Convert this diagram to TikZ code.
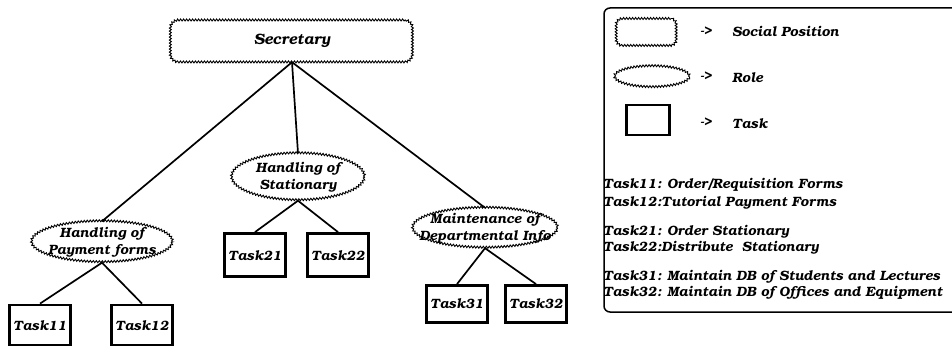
\documentclass[tikz,border=0pt]{standalone}
\usepackage[T1]{fontenc}
\usepackage{bookman}
\usetikzlibrary{shapes.geometric,decorations.pathmorphing}

\begin{document}
\begin{tikzpicture}[x=1pt,y=-1pt,font=\fontsize{13.5}{17}\selectfont\bfseries\itshape]
\tikzset{onde/.style={draw, line width=0.9pt, decorate, decoration={snake, segment length=3pt, amplitude=1pt}}}
\tikzset{poste/.style={rounded corners=8pt, postaction={sharp corners, onde}, minimum width=242, minimum height=42}}
\tikzset{role/.style={ellipse, postaction={onde}, inner sep=0pt}}
\tikzset{tache/.style={draw, line width=2.8pt, minimum width=61, minimum height=40, inner sep=0pt}}
\tikzset{lien/.style={line width=1.7pt}}
\tikzset{leg/.style={anchor=west, inner sep=0pt}}
\useasboundingbox (0,0) rectangle (952,347);
\node[poste] (S) at (292,41) {\fontsize{15}{18}\selectfont Secretary};
\node[role, minimum width=141, minimum height=41] (R1) at (102,242) {};
\node[align=center] (R1t) at (R1) {Handling of\\Payment forms};
\node[role, minimum width=133, minimum height=47] (R2) at (298,177) {};
\node[align=center] (R2t) at (R2) {Handling of\\Stationary};
\node[role, minimum width=145, minimum height=40] (R3) at (485,228) {};
\node[align=center] (R3t) at (R3) {Maintenance of\\Departmental Info};
\node[tache] (T11) at (40,325) {Task11};
\node[tache] (T12) at (142,325) {Task12};
\node[tache, minimum height=43] (T21) at (255,255) {Task21};
\node[tache, minimum height=43] (T22) at (338,255) {Task22};
\node[tache, minimum height=37] (T31) at (457,304) {Task31};
\node[tache, minimum height=37] (T32) at (536,304) {Task32};
\draw[lien] (S.south) -- (R1.north);
\draw[lien] (S.south) -- (R2.north);
\draw[lien] (S.south) -- (R3.north);
\draw[lien] (R1.south) -- (T11.north);
\draw[lien] (R1.south) -- (T12.north);
\draw[lien] (R2.south) -- (T21.north);
\draw[lien] (R2.south) -- (T22.north);
\draw[lien] (R3.south) -- (T31.north);
\draw[lien] (R3.south) -- (T32.north);
\draw[line width=1.5pt, rounded corners=6pt] (952,8) -| (604,312) -- (952,312);
\node[poste, minimum width=60, minimum height=27, rounded corners=6pt] (LS) at (647,32) {};
\node[leg] (LS1) at (700,32) {->};
\node[leg] (LS2) at (732,32) {Social Position};
\node[role, minimum width=75, minimum height=21] (LR) at (652,77) {};
\node[leg] (LR1) at (700,77) {->};
\node[leg] (LR2) at (732,77) {Role};
\node[tache, minimum width=43, minimum height=30] (LT) at (648,120) {};
\node[leg] (LT1) at (700,123) {->};
\node[leg] (LT2) at (732,123) {Task};
\node[leg] (D11) at (603,185) {Task11: Order/Requisition Forms};
\node[leg] (D12) at (603,203) {Task12:Tutorial Payment Forms};
\node[leg] (D21) at (603,232) {Task21: Order Stationary};
\node[leg] (D22) at (603,248) {Task22:Distribute\ \ Stationary};
\node[leg] (D31) at (603,277) {Task31: Maintain DB of Students and Lectures};
\node[leg] (D32) at (603,293) {Task32: Maintain DB of Offices and Equipment};
\end{tikzpicture}
\end{document}
